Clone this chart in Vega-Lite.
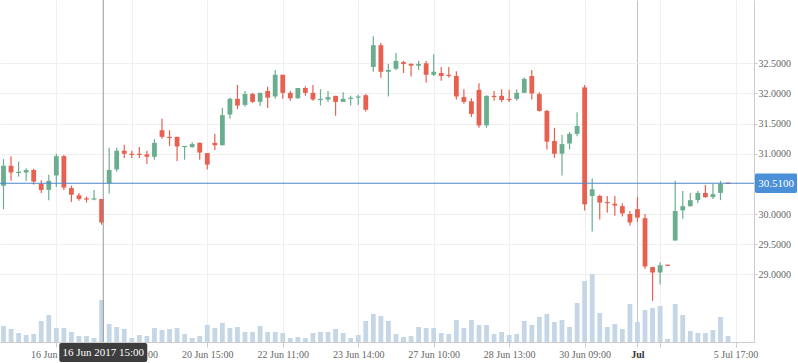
{
  "$schema": "https://vega.github.io/schema/vega-lite/v6.json",
  "width": 754,
  "height": 342,
  "autosize": {"type": "none"},
  "padding": {"left": 0, "top": 0, "right": 44, "bottom": 21},
  "background": "white",
  "config": {"view": {"stroke": null}},
  "datasets": {
    "candles": [
      {"i":0,"o":30.47,"h":30.91,"l":30.08,"c":30.80,"v":160},
      {"i":1,"o":30.80,"h":30.96,"l":30.55,"c":30.69,"v":130},
      {"i":2,"o":30.68,"h":30.87,"l":30.62,"c":30.70,"v":90},
      {"i":3,"o":30.69,"h":30.76,"l":30.55,"c":30.73,"v":70},
      {"i":4,"o":30.73,"h":30.75,"l":30.49,"c":30.54,"v":80},
      {"i":5,"o":30.50,"h":30.56,"l":30.35,"c":30.40,"v":210},
      {"i":6,"o":30.40,"h":30.65,"l":30.23,"c":30.55,"v":270},
      {"i":7,"o":30.64,"h":31.00,"l":30.45,"c":30.96,"v":140},
      {"i":8,"o":30.96,"h":30.98,"l":30.40,"c":30.44,"v":140},
      {"i":9,"o":30.43,"h":30.47,"l":30.20,"c":30.32,"v":100},
      {"i":10,"o":30.31,"h":30.35,"l":30.22,"c":30.25,"v":60},
      {"i":11,"o":30.26,"h":30.29,"l":30.19,"c":30.24,"v":60},
      {"i":12,"o":30.24,"h":30.40,"l":30.23,"c":30.26,"v":40},
      {"i":13,"o":30.25,"h":30.25,"l":29.82,"c":29.86,"v":420},
      {"i":14,"o":30.51,"h":31.10,"l":30.34,"c":30.73,"v":180},
      {"i":15,"o":30.74,"h":31.10,"l":30.70,"c":31.05,"v":150},
      {"i":16,"o":31.05,"h":31.15,"l":30.93,"c":31.00,"v":130},
      {"i":17,"o":31.00,"h":31.05,"l":30.93,"c":30.98,"v":40},
      {"i":18,"o":31.00,"h":31.11,"l":30.93,"c":30.98,"v":70},
      {"i":19,"o":30.99,"h":31.05,"l":30.83,"c":30.95,"v":60},
      {"i":20,"o":30.95,"h":31.24,"l":30.90,"c":31.18,"v":140},
      {"i":21,"o":31.39,"h":31.58,"l":31.25,"c":31.28,"v":120},
      {"i":22,"o":31.28,"h":31.39,"l":31.13,"c":31.26,"v":130},
      {"i":23,"o":31.28,"h":31.28,"l":30.88,"c":31.12,"v":140},
      {"i":24,"o":31.11,"h":31.13,"l":30.90,"c":31.13,"v":80},
      {"i":25,"o":31.11,"h":31.19,"l":31.10,"c":31.16,"v":40},
      {"i":26,"o":31.18,"h":31.19,"l":30.90,"c":31.02,"v":60},
      {"i":27,"o":31.01,"h":31.01,"l":30.74,"c":30.82,"v":170},
      {"i":28,"o":31.18,"h":31.33,"l":31.06,"c":31.14,"v":140},
      {"i":29,"o":31.14,"h":31.76,"l":31.14,"c":31.64,"v":190},
      {"i":30,"o":31.65,"h":31.93,"l":31.58,"c":31.91,"v":140},
      {"i":31,"o":31.91,"h":32.14,"l":31.74,"c":31.80,"v":150},
      {"i":32,"o":31.81,"h":32.04,"l":31.78,"c":31.99,"v":100},
      {"i":33,"o":31.99,"h":32.01,"l":31.84,"c":31.86,"v":100},
      {"i":34,"o":31.86,"h":32.01,"l":31.79,"c":32.01,"v":160},
      {"i":35,"o":32.04,"h":32.11,"l":31.76,"c":31.93,"v":100},
      {"i":36,"o":31.95,"h":32.39,"l":31.91,"c":32.31,"v":100},
      {"i":37,"o":32.31,"h":32.31,"l":31.91,"c":32.01,"v":90},
      {"i":38,"o":32.01,"h":32.04,"l":31.88,"c":31.92,"v":40},
      {"i":39,"o":31.92,"h":32.09,"l":31.91,"c":32.09,"v":50},
      {"i":40,"o":32.09,"h":32.12,"l":31.96,"c":32.01,"v":40},
      {"i":41,"o":32.01,"h":32.14,"l":31.88,"c":31.90,"v":90},
      {"i":42,"o":31.89,"h":32.07,"l":31.80,"c":31.91,"v":100},
      {"i":43,"o":31.90,"h":32.04,"l":31.86,"c":31.94,"v":100},
      {"i":44,"o":31.96,"h":31.96,"l":31.63,"c":31.86,"v":130},
      {"i":45,"o":31.86,"h":32.02,"l":31.86,"c":31.91,"v":90},
      {"i":46,"o":31.91,"h":31.96,"l":31.80,"c":31.93,"v":40},
      {"i":47,"o":31.93,"h":31.98,"l":31.81,"c":31.95,"v":70},
      {"i":48,"o":31.97,"h":31.99,"l":31.70,"c":31.73,"v":210},
      {"i":49,"o":32.44,"h":32.95,"l":32.36,"c":32.80,"v":280},
      {"i":50,"o":32.80,"h":32.84,"l":32.26,"c":32.36,"v":260},
      {"i":51,"o":32.36,"h":32.49,"l":31.95,"c":32.39,"v":210},
      {"i":52,"o":32.41,"h":32.67,"l":32.39,"c":32.54,"v":80},
      {"i":53,"o":32.52,"h":32.54,"l":32.34,"c":32.49,"v":50},
      {"i":54,"o":32.49,"h":32.50,"l":32.28,"c":32.46,"v":60},
      {"i":55,"o":32.46,"h":32.54,"l":32.39,"c":32.49,"v":150},
      {"i":56,"o":32.50,"h":32.54,"l":32.18,"c":32.31,"v":140},
      {"i":57,"o":32.31,"h":32.65,"l":32.29,"c":32.36,"v":140},
      {"i":58,"o":32.34,"h":32.44,"l":32.21,"c":32.29,"v":90},
      {"i":59,"o":32.31,"h":32.44,"l":32.26,"c":32.29,"v":80},
      {"i":60,"o":32.29,"h":32.37,"l":31.90,"c":31.95,"v":220},
      {"i":61,"o":31.94,"h":32.07,"l":31.83,"c":31.86,"v":140},
      {"i":62,"o":31.87,"h":31.92,"l":31.61,"c":31.66,"v":220},
      {"i":63,"o":32.06,"h":32.17,"l":31.43,"c":31.47,"v":170},
      {"i":64,"o":31.47,"h":31.97,"l":31.43,"c":31.96,"v":170},
      {"i":65,"o":31.96,"h":32.04,"l":31.88,"c":31.94,"v":80},
      {"i":66,"o":31.96,"h":32.07,"l":31.86,"c":31.89,"v":100},
      {"i":67,"o":31.91,"h":32.06,"l":31.86,"c":31.89,"v":70},
      {"i":68,"o":31.91,"h":32.07,"l":31.88,"c":32.01,"v":80},
      {"i":69,"o":32.01,"h":32.27,"l":32.01,"c":32.24,"v":210},
      {"i":70,"o":32.29,"h":32.39,"l":31.90,"c":32.00,"v":170},
      {"i":71,"o":31.99,"h":32.02,"l":31.70,"c":31.71,"v":250},
      {"i":72,"o":31.71,"h":31.73,"l":31.07,"c":31.20,"v":280},
      {"i":73,"o":31.21,"h":31.43,"l":30.93,"c":31.00,"v":200},
      {"i":74,"o":31.00,"h":31.31,"l":30.64,"c":31.16,"v":220},
      {"i":75,"o":31.17,"h":31.36,"l":31.07,"c":31.33,"v":150},
      {"i":76,"o":31.33,"h":31.69,"l":31.29,"c":31.46,"v":390},
      {"i":77,"o":32.10,"h":32.14,"l":30.06,"c":30.16,"v":610},
      {"i":78,"o":30.30,"h":30.59,"l":29.71,"c":30.41,"v":680},
      {"i":79,"o":30.30,"h":30.32,"l":29.91,"c":30.19,"v":290},
      {"i":80,"o":30.20,"h":30.30,"l":30.02,"c":30.18,"v":150},
      {"i":81,"o":30.17,"h":30.30,"l":29.97,"c":30.14,"v":180},
      {"i":82,"o":30.13,"h":30.18,"l":29.96,"c":30.01,"v":130},
      {"i":83,"o":30.00,"h":30.05,"l":29.81,"c":29.86,"v":380},
      {"i":84,"o":30.08,"h":30.28,"l":29.87,"c":29.94,"v":200},
      {"i":85,"o":29.93,"h":30.00,"l":29.09,"c":29.13,"v":320},
      {"i":86,"o":29.12,"h":29.12,"l":28.56,"c":29.03,"v":340},
      {"i":87,"o":29.03,"h":29.20,"l":28.83,"c":29.15,"v":360},
      {"i":88,"o":29.16,"h":29.16,"l":29.14,"c":29.14,"v":30},
      {"i":89,"o":29.56,"h":30.55,"l":29.56,"c":30.05,"v":380},
      {"i":90,"o":30.06,"h":30.38,"l":29.92,"c":30.13,"v":270},
      {"i":91,"o":30.13,"h":30.35,"l":30.12,"c":30.23,"v":110},
      {"i":92,"o":30.23,"h":30.38,"l":30.18,"c":30.35,"v":90},
      {"i":93,"o":30.35,"h":30.48,"l":30.27,"c":30.28,"v":90},
      {"i":94,"o":30.28,"h":30.50,"l":30.25,"c":30.33,"v":120},
      {"i":95,"o":30.35,"h":30.55,"l":30.23,"c":30.50,"v":250},
      {"i":96,"o":30.52,"h":30.52,"l":30.50,"c":30.50,"v":60}
    ],
    "cross": [
      {"i": 13.22, "price": 30.51, "dateLabel": "16 Jun 2017 15:00", "priceLabel": "30.5100"}
    ]
  },
  "resolve": {"scale": {"y": "independent"}, "axis": {"y": "independent"}},
  "layer": [
    {
      "data": {"name": "candles"},
      "mark": {"type": "bar", "orient": "vertical", "width": 4.8, "color": "#c5d6e7"},
      "encoding": {
        "x": {
          "field": "i", "type": "quantitative", "title": null,
          "scale": {"domain": [-0.464, 99.44], "nice": false, "zero": false, "padding": 0},
          "axis": {
            "orient": "bottom", "title": null,
            "values": [7, 17, 27, 37, 47, 57, 67, 77, 84, 87, 97],
            "labelExpr": "['16 Jun 09:00','19 Jun 11:00','20 Jun 15:00','22 Jun 11:00','23 Jun 14:00','27 Jun 10:00','28 Jun 13:00','30 Jun 09:00','Jul','','5 Jul 17:00'][indexof([7,17,27,37,47,57,67,77,84,87,97], datum.value)]",
            "grid": true,
            "gridColor": {"condition": {"test": "datum.value === 84", "value": "#c4c4c4"}, "value": "#efefef"},
            "domainColor": "#cccccc", "tickColor": "#cccccc", "tickSize": 5,
            "labelFont": "Liberation Serif", "labelFontSize": 10,
            "labelColor": {"condition": {"test": "datum.value === 84", "value": "#333333"}, "value": "#666666"},
            "labelFontWeight": {"condition": {"test": "datum.value === 84", "value": "bold"}, "value": "normal"},
            "labelPadding": 2, "labelOverlap": false, "labelFlush": false
          }
        },
        "y": {"field": "v", "type": "quantitative", "title": null, "scale": {"domain": [0, 3420], "nice": false, "padding": 0}, "axis": null}
      }
    },
    {
      "layer": [
        {
          "data": {"name": "candles"},
          "mark": {"type": "rule", "strokeWidth": 1.2},
          "encoding": {
            "x": {"field": "i", "type": "quantitative", "title": null, "scale": {"domain": [-0.464, 99.44], "nice": false, "zero": false, "padding": 0}},
            "y": {
              "field": "l", "type": "quantitative", "title": null,
              "scale": {"domain": [27.877, 33.55], "nice": false, "zero": false, "padding": 0},
              "axis": {
                "orient": "right", "title": null,
                "values": [29, 29.5, 30, 31, 31.5, 32, 32.5],
                "format": ".4f", "grid": true, "gridColor": "#efefef",
                "domainColor": "#cccccc", "tickColor": "#cccccc", "tickSize": 3,
                "labelPadding": 1, "labelFont": "Liberation Serif", "labelFontSize": 10,
                "labelColor": "#666666"
              }
            },
            "y2": {"field": "h"},
            "color": {"condition": {"test": "datum.c >= datum.o", "value": "#6aae8f"}, "value": "#e8604f"}
          }
        },
        {
          "data": {"name": "candles"},
          "mark": {"type": "bar", "orient": "vertical", "width": 4.8},
          "encoding": {
            "x": {"field": "i", "type": "quantitative", "title": null, "scale": {"domain": [-0.464, 99.44], "nice": false, "zero": false, "padding": 0}},
            "y": {"field": "o", "type": "quantitative", "title": null, "scale": {"domain": [27.877, 33.55], "nice": false, "zero": false, "padding": 0}},
            "y2": {"field": "c"},
            "color": {"condition": {"test": "datum.c >= datum.o", "value": "#6aae8f"}, "value": "#e8604f"}
          }
        },
        {
          "data": {"name": "cross"},
          "mark": {"type": "rule", "color": "#9a9a9a", "strokeWidth": 1},
          "encoding": {
            "x": {"field": "i", "type": "quantitative", "title": null, "scale": {"domain": [-0.464, 99.44], "nice": false, "zero": false, "padding": 0}}
          }
        },
        {
          "data": {"name": "cross"},
          "mark": {"type": "rule", "color": "#4a86cc", "strokeWidth": 1.2},
          "encoding": {
            "y": {"field": "price", "type": "quantitative", "title": null, "scale": {"domain": [27.877, 33.55], "nice": false, "zero": false, "padding": 0}}
          }
        },
        {
          "data": {"name": "cross"},
          "mark": {"type": "point", "filled": true, "opacity": 1, "strokeWidth": 0, "color": "#4a90d9", "size": 1764, "xOffset": 22,
            "shape": "M-0.93,-0.46H0.93Q1,-0.46,1,-0.39V0.39Q1,0.46,0.93,0.46H-0.93Q-1,0.46,-1,0.39V-0.39Q-1,-0.46,-0.93,-0.46Z"},
          "encoding": {
            "x": {"value": "width"},
            "y": {"field": "price", "type": "quantitative", "title": null, "scale": {"domain": [27.877, 33.55], "nice": false, "zero": false, "padding": 0}}
          }
        },
        {
          "data": {"name": "cross"},
          "mark": {"type": "text", "color": "white", "font": "Liberation Serif", "fontSize": 11, "align": "center", "baseline": "middle", "xOffset": 22, "yOffset": 0.5},
          "encoding": {
            "x": {"value": "width"},
            "y": {"field": "price", "type": "quantitative", "title": null, "scale": {"domain": [27.877, 33.55], "nice": false, "zero": false, "padding": 0}},
            "text": {"field": "priceLabel"}
          }
        },
        {
          "data": {"name": "cross"},
          "mark": {"type": "point", "filled": true, "opacity": 1, "strokeWidth": 0, "color": "#3d3d3d", "size": 7744, "yOffset": 10.5,
            "shape": "M-0.955,-0.216H0.955Q1,-0.216,1,-0.171V0.171Q1,0.216,0.955,0.216H-0.955Q-1,0.216,-1,0.171V-0.171Q-1,-0.216,-0.955,-0.216Z"},
          "encoding": {
            "x": {"field": "i", "type": "quantitative", "title": null, "scale": {"domain": [-0.464, 99.44], "nice": false, "zero": false, "padding": 0}},
            "y": {"value": "height"}
          }
        },
        {
          "data": {"name": "cross"},
          "mark": {"type": "text", "color": "white", "font": "Liberation Serif", "fontSize": 11, "align": "center", "baseline": "middle", "yOffset": 11},
          "encoding": {
            "x": {"field": "i", "type": "quantitative", "title": null, "scale": {"domain": [-0.464, 99.44], "nice": false, "zero": false, "padding": 0}},
            "y": {"value": "height"},
            "text": {"field": "dateLabel"}
          }
        }
      ]
    }
  ]
}
